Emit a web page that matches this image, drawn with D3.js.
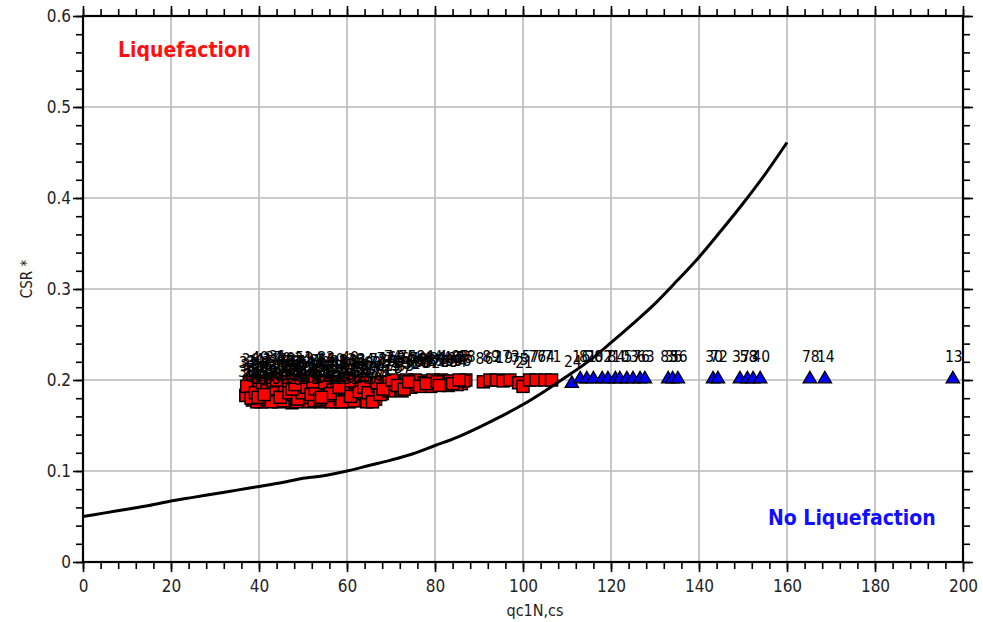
<!DOCTYPE html>
<html>
<head>
<meta charset="utf-8">
<script src="https://cdn.jsdelivr.net/npm/d3@7"></script>
<style>
  html, body { margin: 0; padding: 0; background: #fff; }
  svg { display: block; }
</style>
</head>
<body>
<svg id="chart" width="983" height="622"></svg>
<script>
// ---- data ----
const xMajorTicks = [0, 20, 40, 60, 80, 100, 120, 140, 160, 180, 200];
const yMajorTicks = [0, 0.1, 0.2, 0.3, 0.4, 0.5, 0.6];
const yTickLabels = ["0", "0.1", "0.2", "0.3", "0.4", "0.5", "0.6"];

// boundary curve (CRR vs qc1N,cs)
const curveQc  = [0, 5, 10, 15, 20, 25, 30, 35, 40, 45, 50, 55, 60, 65, 70, 75, 80, 85, 90, 95, 100, 105, 110, 115, 120, 125, 130, 135, 140, 145, 150, 155, 160];
const curveCsr = [0.050, 0.054, 0.058, 0.062, 0.067, 0.071, 0.075, 0.079, 0.083, 0.087, 0.092, 0.095, 0.100, 0.106, 0.112, 0.119, 0.128, 0.137, 0.148, 0.160, 0.173, 0.188, 0.204, 0.221, 0.241, 0.262, 0.284, 0.309, 0.335, 0.364, 0.394, 0.426, 0.461];

// liquefied points (red squares)
const liqQc = [37.5, 38, 38.5, 39, 40, 40.5, 41, 42, 42.5, 43, 44, 44.5, 45, 46, 46.5, 47, 47.5, 48, 49, 49.5, 50, 51, 51.5, 52, 53, 53.5, 54, 55, 55.5, 56, 57, 57.5, 58, 59, 59.5, 60, 60.5, 61, 62, 62.5, 63, 64, 65, 66,
               37, 37.8, 38.8, 39.5, 40.2, 41.5, 42.2, 43.5, 44.2, 45.5, 46.2, 47.2, 48.5, 49.2, 50.5, 51.2, 52.5, 53.2, 54.5, 55.2, 56.5, 57.2, 58.5, 59.2, 60.2, 61.5, 62.2, 63.5, 64.5, 65.5, 66.5, 64, 45, 50, 55, 40,
               37.2, 38.2, 39.2, 40.8, 41.8, 42.8, 43.8, 44.8, 45.8, 46.8, 47.8, 48.8, 49.8, 50.8, 51.8, 52.8, 53.8, 54.8, 55.8, 56.8, 57.8, 58.8, 59.8, 60.8, 61.8, 62.8, 63.8, 64.8, 65.8, 39.8, 43.2, 47.5, 52.2, 56.2, 60.5, 48.2, 54.2, 58.2, 41.2, 44,
               67, 68, 69, 70, 71, 72, 73, 74.5, 76, 77, 78.5, 80, 81.5, 83, 84.5, 86, 87,
               67.5, 68.5, 69.5, 70.5, 72.5, 73.5, 75, 75.5, 77.5, 79, 79.5, 82, 83.5, 85, 86.5,
               66.8, 68.2, 70.2, 71.5, 73, 74, 76.5, 78, 80.5, 81, 84, 85.5,
               91, 92.5, 94, 95.5, 97, 99, 100, 101.5, 103, 105, 106.5];
const liqCsr = [0.190, 0.185, 0.178, 0.195, 0.182, 0.176, 0.190, 0.186, 0.197, 0.180, 0.192, 0.176, 0.185, 0.190, 0.180, 0.195, 0.175, 0.188, 0.182, 0.193, 0.178, 0.187, 0.176, 0.196, 0.183, 0.190, 0.176, 0.185, 0.178, 0.193, 0.181, 0.176, 0.188, 0.196, 0.180, 0.186, 0.176, 0.192, 0.183, 0.190, 0.178, 0.187, 0.182, 0.188,
                0.183, 0.197, 0.188, 0.176, 0.193, 0.179, 0.184, 0.195, 0.188, 0.177, 0.197, 0.184, 0.176, 0.190, 0.195, 0.181, 0.177, 0.196, 0.188, 0.192, 0.176, 0.197, 0.179, 0.185, 0.194, 0.177, 0.196, 0.185, 0.176, 0.193, 0.179, 0.197, 0.198, 0.199, 0.199, 0.199,
                0.193, 0.180, 0.186, 0.197, 0.188, 0.176, 0.190, 0.181, 0.194, 0.186, 0.198, 0.179, 0.186, 0.192, 0.184, 0.190, 0.179, 0.197, 0.183, 0.189, 0.194, 0.176, 0.191, 0.182, 0.197, 0.187, 0.192, 0.186, 0.176, 0.181, 0.199, 0.190, 0.198, 0.185, 0.199, 0.195, 0.181, 0.192, 0.184, 0.200,
                0.193, 0.185, 0.196, 0.190, 0.199, 0.193, 0.197, 0.192, 0.198, 0.194, 0.199, 0.196, 0.200, 0.194, 0.198, 0.196, 0.200,
                0.184, 0.198, 0.188, 0.195, 0.188, 0.200, 0.195, 0.200, 0.197, 0.193, 0.200, 0.196, 0.199, 0.195, 0.199,
                0.197, 0.190, 0.200, 0.194, 0.190, 0.198, 0.193, 0.196, 0.198, 0.194, 0.196, 0.200,
                0.198, 0.200, 0.200, 0.199, 0.200, 0.197, 0.193, 0.200, 0.200, 0.200, 0.200];
const liqLabel = ["33", "35", "61", "39", "47", "52", "8", "44", "31", "58", "27", "62", "49", "12", "41", "53", "70", "26", "45", "38", "67", "22", "59", "11", "43", "29", "64", "50", "17", "34", "55", "68", "23", "9", "46", "57", "71", "28", "42", "15", "60", "37", "48", "77",
                  "30", "36", "54", "63", "48", "21", "39", "56", "13", "47", "33", "58", "29", "61", "44", "18", "52", "35", "66", "27", "43", "59", "24", "50", "38", "62", "31", "53", "45", "69", "72", "34", "40", "51", "32", "49",
                  "32", "38", "57", "41", "26", "65", "35", "54", "28", "47", "63", "19", "42", "58", "36", "25", "67", "44", "52", "39", "61", "23", "48", "55", "30", "46", "68", "37", "59", "43", "27", "56", "34", "62", "49", "20", "53", "45", "64", "31",
                  "71", "51", "79", "25", "69", "18", "54", "32", "40", "65", "6", "85", "4", "65", "87", "66", "88",
                  "73", "77", "64", "70", "57", "75", "60", "68", "63", "82", "44", "79", "46", "84", "55",
                  "78", "61", "74", "52", "83", "67", "80", "58", "81", "72", "69", "85",
                  "86", "89", "2", "19", "73", "75", "21", "57", "76", "74", "71"];

// non-liquefied points (blue triangles)
const noLiqQc  = [111.1, 113, 114.5, 116, 118, 119.3, 121, 122, 123.6, 125, 126.6, 127.7, 133, 134, 135.2, 143.2, 144.3, 149.3, 151, 152.3, 153.9, 165.2, 168.6, 197.7];
const noLiqCsr = [0.195, 0.200, 0.200, 0.200, 0.200, 0.200, 0.200, 0.200, 0.200, 0.200, 0.200, 0.200, 0.200, 0.200, 0.200, 0.200, 0.200, 0.200, 0.200, 0.200, 0.200, 0.200, 0.200, 0.200];
const noLiqLabel = ["24", "16", "81", "20", "82", "7", "84", "10", "5", "3", "76", "63", "83", "36", "56", "30", "72", "37", "58", "3", "40", "78", "14", "13"];

// ---- layout ----
const L = 83, R = 963, T = 16, B = 562;
const svg = d3.select("#chart");
const x = d3.scaleLinear().domain([0, 200]).range([L, R]);
const y = d3.scaleLinear().domain([0, 0.6]).range([B, T]);
const FONT = "'DejaVu Sans Condensed', 'DejaVu Sans', sans-serif";

// grid
const grid = svg.append("g");
grid.selectAll("line.v").data(xMajorTicks.slice(1, -1)).enter().append("line")
  .attr("x1", d => x(d)).attr("x2", d => x(d)).attr("y1", T).attr("y2", B)
  .attr("stroke", "#b9b9b9").attr("stroke-width", 1.6);
grid.selectAll("line.h").data(yMajorTicks.slice(1, -1)).enter().append("line")
  .attr("x1", L).attr("x2", R).attr("y1", d => y(d)).attr("y2", d => y(d))
  .attr("stroke", "#b9b9b9").attr("stroke-width", 1.6);

// points
const liq = liqQc.map((q, i) => ({ q, c: liqCsr[i], lab: liqLabel[i] }));
const noLiq = noLiqQc.map((q, i) => ({ q, c: noLiqCsr[i], lab: noLiqLabel[i] }));

svg.append("g").selectAll("rect").data(liq).enter().append("rect")
  .attr("x", d => x(d.q) - 6).attr("y", d => y(d.c) - 6)
  .attr("width", 12).attr("height", 12)
  .attr("fill", "#ff0000").attr("stroke", "#000").attr("stroke-width", 1.5);

const tri = d3.symbol().type(d3.symbolTriangle).size(78);
svg.append("g").selectAll("path").data(noLiq).enter().append("path")
  .attr("d", tri)
  .attr("transform", d => `translate(${x(d.q)},${y(d.c) - 1})`)
  .attr("fill", "#0000ff").attr("stroke", "#000").attr("stroke-width", 1.3);

// point labels
svg.append("g").selectAll("text").data(liq.concat(noLiq)).enter().append("text")
  .attr("x", d => x(d.q) + 1).attr("y", d => y(d.c) - 18)
  .attr("text-anchor", "middle")
  .attr("font-family", FONT).attr("font-size", 15.5).attr("fill", "#000")
  .text(d => d.lab);

// boundary curve
svg.append("path")
  .datum(curveQc.map((q, i) => [q, curveCsr[i]]))
  .attr("d", d3.line().x(d => x(d[0])).y(d => y(d[1])).curve(d3.curveMonotoneX))
  .attr("fill", "none").attr("stroke", "#000").attr("stroke-width", 3);

// axes
function styleAxis(g) {
  g.select(".domain").remove();
  g.selectAll(".tick line").attr("stroke", "#000").attr("stroke-width", 1.6);
  g.selectAll("text").attr("font-family", FONT).attr("font-size", 17).attr("fill", "#222");
}
const xMinor = d3.range(0, 201, 4);
const yMinor = d3.range(0, 0.601, 0.02);

svg.append("g").attr("transform", `translate(0,${B})`)
  .call(d3.axisBottom(x).tickValues(xMinor).tickSize(7).tickFormat(""))
  .call(styleAxis);
svg.append("g").attr("transform", `translate(0,${B})`)
  .call(d3.axisBottom(x).tickValues(xMajorTicks).tickSize(10).tickPadding(8).tickFormat(d3.format("d")))
  .call(styleAxis);
svg.append("g").attr("transform", `translate(0,${T})`)
  .call(d3.axisTop(x).tickValues(xMinor).tickSize(7).tickFormat(""))
  .call(styleAxis);
svg.append("g").attr("transform", `translate(0,${T})`)
  .call(d3.axisTop(x).tickValues(xMajorTicks).tickSize(10).tickFormat(""))
  .call(styleAxis);
svg.append("g").attr("transform", `translate(${L},0)`)
  .call(d3.axisLeft(y).tickValues(yMinor).tickSize(7).tickFormat(""))
  .call(styleAxis);
svg.append("g").attr("transform", `translate(${L},0)`)
  .call(d3.axisLeft(y).tickValues(yMajorTicks).tickSize(10).tickPadding(2).tickFormat((d, i) => yTickLabels[i]))
  .call(styleAxis);
svg.append("g").attr("transform", `translate(${R},0)`)
  .call(d3.axisRight(y).tickValues(yMinor).tickSize(7).tickFormat(""))
  .call(styleAxis);
svg.append("g").attr("transform", `translate(${R},0)`)
  .call(d3.axisRight(y).tickValues(yMajorTicks).tickSize(10).tickFormat(""))
  .call(styleAxis);

// frame
svg.append("rect").attr("x", L).attr("y", T).attr("width", R - L).attr("height", B - T)
  .attr("fill", "none").attr("stroke", "#000").attr("stroke-width", 2.2);

// axis titles
svg.append("text").attr("x", 535).attr("y", 616).attr("text-anchor", "middle")
  .attr("font-family", FONT).attr("font-size", 16).attr("fill", "#222").text("qc1N,cs");
svg.append("text").attr("transform", "translate(32,279) rotate(-90)").attr("text-anchor", "middle")
  .attr("font-family", FONT).attr("font-size", 15).attr("fill", "#222").text("CSR *");

// annotations
svg.append("text").attr("x", 118).attr("y", 57)
  .attr("font-family", FONT).attr("font-weight", "bold").attr("font-size", 21).attr("fill", "#ff1010")
  .text("Liquefaction");
svg.append("text").attr("x", 768).attr("y", 525)
  .attr("font-family", FONT).attr("font-weight", "bold").attr("font-size", 21).attr("fill", "#1010ff")
  .text("No Liquefaction");
</script>
</body>
</html>
